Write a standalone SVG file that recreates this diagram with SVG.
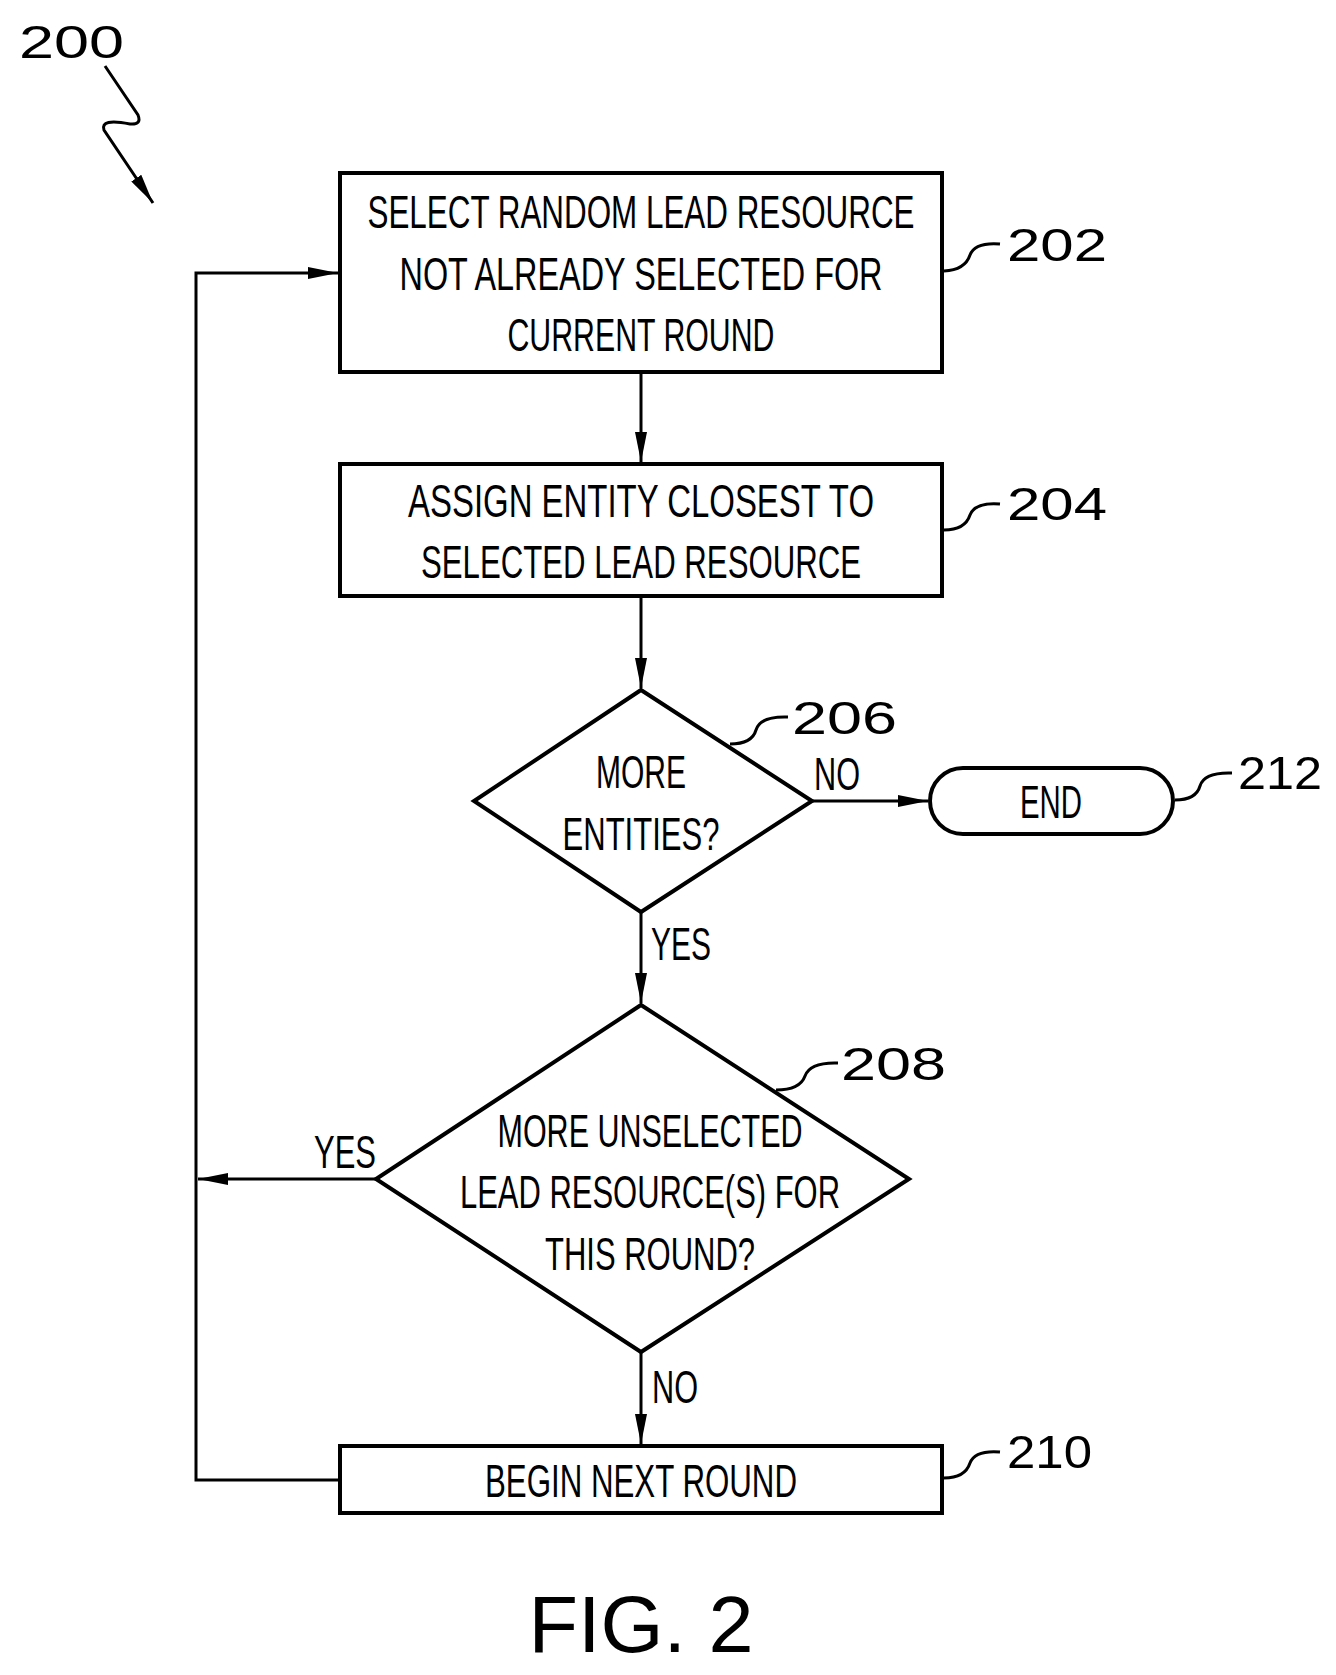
<svg xmlns="http://www.w3.org/2000/svg" width="1336" height="1675" viewBox="0 0 1336 1675">
<defs>
<style>
.s{fill:#fff;stroke:#000;stroke-width:4}
.l{fill:none;stroke:#000;stroke-width:3}
.t{font-family:"Liberation Sans",Arial,sans-serif;font-size:46px;text-anchor:middle;fill:#000}
.n{font-family:"Liberation Sans",Arial,sans-serif;font-size:46px;fill:#000}
</style>
<marker id="b" viewBox="0 0 30 12" refX="30" refY="6" markerWidth="30" markerHeight="12" markerUnits="userSpaceOnUse" orient="auto"><path d="M0,0L30,6L0,12z" fill="#000"/></marker>
</defs>
<g id="connectors">
<line class="l" x1="641" y1="372" x2="641" y2="462" marker-end="url(#b)"/>
<line class="l" x1="641" y1="596" x2="641" y2="688" marker-end="url(#b)"/>
<line class="l" x1="812" y1="801" x2="928" y2="801" marker-end="url(#b)"/>
<line class="l" x1="641" y1="912" x2="641" y2="1003" marker-end="url(#b)"/>
<line class="l" x1="641" y1="1352" x2="641" y2="1444" marker-end="url(#b)"/>
<polyline class="l" points="340,1480 196,1480 196,273 338,273" marker-end="url(#b)"/>
<line class="l" x1="376" y1="1179" x2="198" y2="1179" marker-end="url(#b)"/>
<path class="l" d="M105,66 L138,115 Q142,125 130,124 Q100,118 104,130 L153,203" marker-end="url(#b)"/>
<text class="t" x="837" y="790" textLength="46" lengthAdjust="spacingAndGlyphs">NO</text>
<text class="t" x="681" y="960" textLength="60" lengthAdjust="spacingAndGlyphs">YES</text>
<text class="t" x="345" y="1168" textLength="62" lengthAdjust="spacingAndGlyphs">YES</text>
<text class="t" x="675" y="1403" textLength="46" lengthAdjust="spacingAndGlyphs">NO</text>
</g>
<g id="n202">
<rect class="s" x="340" y="173" width="602" height="199"/>
<text class="t" x="641" y="228" textLength="547" lengthAdjust="spacingAndGlyphs">SELECT RANDOM LEAD RESOURCE</text>
<text class="t" x="641" y="290" textLength="483" lengthAdjust="spacingAndGlyphs">NOT ALREADY SELECTED FOR</text>
<text class="t" x="641" y="351" textLength="267" lengthAdjust="spacingAndGlyphs">CURRENT ROUND</text>
<path class="l" d="M944,271 Q965,270 970,255 Q975,242 1000,244"/>
<text class="n" x="1007" y="261" textLength="100" lengthAdjust="spacingAndGlyphs">202</text>
</g>
<g id="n204">
<rect class="s" x="340" y="464" width="602" height="132"/>
<text class="t" x="641" y="517" textLength="466" lengthAdjust="spacingAndGlyphs">ASSIGN ENTITY CLOSEST TO</text>
<text class="t" x="641" y="578" textLength="440" lengthAdjust="spacingAndGlyphs">SELECTED LEAD RESOURCE</text>
<path class="l" d="M944,530 Q965,530 970,515 Q975,502 1000,504"/>
<text class="n" x="1007" y="520" textLength="100" lengthAdjust="spacingAndGlyphs">204</text>
</g>
<g id="n206">
<polygon class="s" points="641,690 812,801 641,912 474,801"/>
<text class="t" x="641" y="788" textLength="90" lengthAdjust="spacingAndGlyphs">MORE</text>
<text class="t" x="641" y="850" textLength="157" lengthAdjust="spacingAndGlyphs">ENTITIES?</text>
<path class="l" d="M730,744 Q752,744 756,730 Q760,716 788,717"/>
<text class="n" x="792" y="734" textLength="105" lengthAdjust="spacingAndGlyphs">206</text>
</g>
<g id="n212">
<rect class="s" x="930" y="768" width="243" height="66" rx="33"/>
<text class="t" x="1051" y="818" textLength="62" lengthAdjust="spacingAndGlyphs">END</text>
<path class="l" d="M1175,800 Q1196,800 1200,786 Q1204,772 1232,773"/>
<text class="n" x="1238" y="789" textLength="84" lengthAdjust="spacingAndGlyphs">212</text>
</g>
<g id="n208">
<polygon class="s" points="641,1005 909,1179 641,1352 376,1179"/>
<text class="t" x="650" y="1147" textLength="305" lengthAdjust="spacingAndGlyphs">MORE UNSELECTED</text>
<text class="t" x="650" y="1208" textLength="380" lengthAdjust="spacingAndGlyphs">LEAD RESOURCE(S) FOR</text>
<text class="t" x="650" y="1270" textLength="210" lengthAdjust="spacingAndGlyphs">THIS ROUND?</text>
<path class="l" d="M776,1090 Q800,1090 805,1076 Q810,1062 838,1063"/>
<text class="n" x="841" y="1080" textLength="105" lengthAdjust="spacingAndGlyphs">208</text>
</g>
<g id="n210">
<rect class="s" x="340" y="1446" width="602" height="67"/>
<text class="t" x="641" y="1497" textLength="312" lengthAdjust="spacingAndGlyphs">BEGIN NEXT ROUND</text>
<path class="l" d="M944,1478 Q965,1478 970,1463 Q975,1450 1000,1452"/>
<text class="n" x="1007" y="1468" textLength="85" lengthAdjust="spacingAndGlyphs">210</text>
</g>
<text class="n" x="19" y="58" textLength="105" lengthAdjust="spacingAndGlyphs">200</text>
<text x="641" y="1652" font-family="Liberation Sans,Arial,sans-serif" font-size="80" text-anchor="middle" textLength="225" lengthAdjust="spacingAndGlyphs">FIG. 2</text>
</svg>
